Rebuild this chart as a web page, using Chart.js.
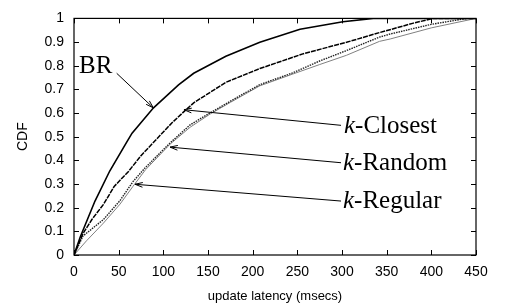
<!DOCTYPE html>
<html>
<head>
<meta charset="utf-8">
<script src="https://cdn.jsdelivr.net/npm/chart.js@4.4.1/dist/chart.umd.min.js"></script>
<style>
html,body{margin:0;padding:0;background:#fff;}
#wrap{width:509px;height:307px;position:relative;}
</style>
</head>
<body>
<div id="wrap"><canvas id="c" width="509" height="307"></canvas></div>
<script>
// ---- data (latency in msecs, CDF) ----
const brX  = [0, 7, 15, 23.5, 40, 59, 65, 89, 117, 134, 170, 208, 253, 301, 335, 450];
const brY  = [0, 0.076, 0.15, 0.228, 0.355, 0.477, 0.515, 0.622, 0.719, 0.768, 0.84, 0.899, 0.954, 0.986, 1.0, 1.0];

const closestX = [0, 10, 20, 33, 45, 61, 75, 91, 110, 124, 134, 170, 208, 257, 305, 342, 380, 402, 450];
const closestY = [0, 0.09, 0.15, 0.214, 0.29, 0.353, 0.42, 0.484, 0.56, 0.609, 0.643, 0.73, 0.788, 0.851, 0.899, 0.94, 0.98, 1.0, 1.0];

const randomX = [0, 10, 33, 51.5, 66, 80, 108, 130, 152, 175, 208, 245, 275, 305, 342, 354, 400, 440, 450];
const randomY = [0, 0.08, 0.15, 0.23, 0.31, 0.37, 0.475, 0.55, 0.60, 0.65, 0.72, 0.77, 0.82, 0.864, 0.921, 0.934, 0.975, 1.0, 1.0];

const regularX = [0, 14, 33, 51.5, 66, 80, 108, 130, 152, 175, 208, 245, 275, 305, 342, 354, 400, 450];
const regularY = [0, 0.06, 0.135, 0.215, 0.29, 0.36, 0.47, 0.54, 0.595, 0.645, 0.715, 0.765, 0.805, 0.844, 0.903, 0.913, 0.96, 1.0];

const xTickLabels = ['0','50','100','150','200','250','300','350','400','450'];
const yTickLabels = ['0','0.1','0.2','0.3','0.4','0.5','0.6','0.7','0.8','0.9','1'];

// annotation labels (data coordinates)
const annPrefix = ['', 'k', 'k', 'k'];
const annText   = ['BR', '-Closest', '-Random', '-Regular'];
const annTextX  = [5.6, 302.2, 301.1, 301.1];
const annTextY  = [0.768, 0.515, 0.361, 0.199];
const annTailX  = [47.8, 298.9, 298.9, 298.9];
const annTailY  = [0.768, 0.548, 0.39, 0.228];
const annTipX   = [88.8, 123.1, 107.5, 68.3];
const annTipY   = [0.622, 0.614, 0.456, 0.299];

function pts(xs, ys){ return xs.map((x,i)=>({x:x, y:ys[i]})); }

const frame = {
  id: 'frame',
  afterDraw(chart){
    const ctx = chart.ctx, a = chart.chartArea;
    const xs = chart.scales.x, ys = chart.scales.y;
    ctx.save();
    ctx.strokeStyle = '#000';
    ctx.lineWidth = 1.2;
    ctx.strokeRect(a.left, a.top, a.right - a.left, a.bottom - a.top);
    ctx.lineWidth = 1;
    const tl = 5;
    ctx.beginPath();
    xs.ticks.forEach(t => {
      const p = Math.round(xs.getPixelForValue(t.value)) + 0.5;
      ctx.moveTo(p, a.bottom); ctx.lineTo(p, a.bottom - tl);
      ctx.moveTo(p, a.top); ctx.lineTo(p, a.top + tl);
    });
    ys.ticks.forEach(t => {
      const p = Math.round(ys.getPixelForValue(t.value)) + 0.5;
      ctx.moveTo(a.left, p); ctx.lineTo(a.left + tl, p);
      ctx.moveTo(a.right, p); ctx.lineTo(a.right - tl, p);
    });
    ctx.stroke();

    // annotations
    ctx.lineWidth = 1;
    for (let i = 0; i < annText.length; i++) {
      const tx = xs.getPixelForValue(annTailX[i]), ty = ys.getPixelForValue(annTailY[i]);
      const hx = xs.getPixelForValue(annTipX[i]), hy = ys.getPixelForValue(annTipY[i]);
      ctx.beginPath();
      ctx.moveTo(tx, ty); ctx.lineTo(hx, hy);
      const ang = Math.atan2(hy - ty, hx - tx);
      const L = 8, w = 0.3;
      ctx.moveTo(hx - L*Math.cos(ang - w), hy - L*Math.sin(ang - w));
      ctx.lineTo(hx, hy);
      ctx.lineTo(hx - L*Math.cos(ang + w), hy - L*Math.sin(ang + w));
      ctx.stroke();

      let px = xs.getPixelForValue(annTextX[i]);
      const py = ys.getPixelForValue(annTextY[i]);
      ctx.fillStyle = '#000';
      ctx.textBaseline = 'alphabetic';
      ctx.textAlign = 'left';
      if (annPrefix[i]) {
        ctx.font = 'italic 25px "Liberation Serif", "DejaVu Serif", serif';
        ctx.fillText(annPrefix[i], px, py);
        px += ctx.measureText(annPrefix[i]).width;
      }
      ctx.font = '25px "Liberation Serif", "DejaVu Serif", serif';
      ctx.fillText(annText[i], px, py);
    }
    ctx.restore();
  }
};

new Chart(document.getElementById('c'), {
  type: 'line',
  data: {
    datasets: [
      { label: 'BR', data: pts(brX, brY), borderColor: '#000', borderWidth: 1.6 },
      { label: 'k-Closest', data: pts(closestX, closestY), borderColor: '#000', borderWidth: 1.5, borderDash: [5, 1] },
      { label: 'k-Random', data: pts(randomX, randomY), borderColor: '#222', borderWidth: 1.4, borderDash: [1.5, 1] },
      { label: 'k-Regular', data: pts(regularX, regularY), borderColor: '#808080', borderWidth: 1 }
    ]
  },
  options: {
    responsive: false,
    animation: false,
    devicePixelRatio: 1,
    elements: { point: { radius: 0 }, line: { tension: 0, fill: false } },
    layout: { padding: { left: 0, right: 33, top: 14, bottom: 0 } },
    plugins: { legend: { display: false }, tooltip: { enabled: false } },
    scales: {
      x: {
        type: 'linear', min: 0, max: 450,
        afterFit(s){ s.height = 52; },
        grid: { display: false, drawTicks: false },
        border: { display: false },
        ticks: {
          stepSize: 50, padding: 9, color: '#000', maxRotation: 0,
          font: { family: '"Liberation Sans", Arial, sans-serif', size: 14 },
          callback: (v, i) => xTickLabels[i]
        },
        title: {
          display: true, text: 'update latency (msecs)', color: '#000',
          font: { family: '"Liberation Sans", Arial, sans-serif', size: 13 },
          padding: { top: 0, bottom: 3 }
        }
      },
      y: {
        type: 'linear', min: 0, max: 1,
        afterFit(s){ s.width = 74; },
        grid: { display: false, drawTicks: false },
        border: { display: false },
        ticks: {
          stepSize: 0.1, padding: 10, color: '#000',
          font: { family: '"Liberation Sans", Arial, sans-serif', size: 14 },
          callback: (v, i) => yTickLabels[i]
        },
        title: {
          display: true, text: 'CDF', color: '#000',
          font: { family: '"Liberation Sans", Arial, sans-serif', size: 14 },
          padding: { top: 15, bottom: 0 }
        }
      }
    }
  },
  plugins: [frame]
});
</script>
</body>
</html>
